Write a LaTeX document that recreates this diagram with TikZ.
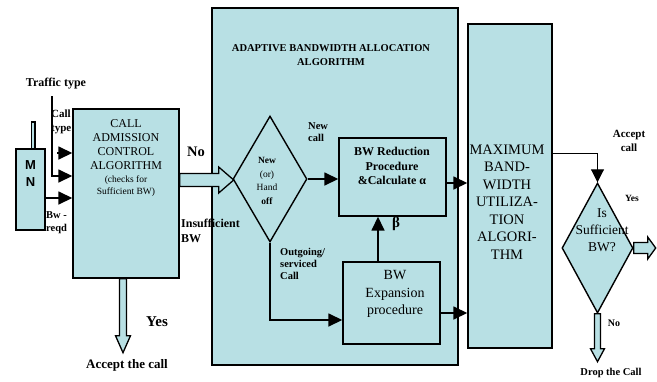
\documentclass[tikz,border=0pt]{standalone}
\usepackage{fontspec}
\setmainfont{Liberation Serif}
\newfontfamily\mnfont{Liberation Sans}
\usetikzlibrary{arrows.meta,shapes.geometric,calc}
\definecolor{boxfill}{RGB}{184,224,228}

\tikzset{
  box/.style={draw,line width=1.4pt,fill=boxfill,inner sep=0pt},
  flow/.style={line width=1.6pt,-{Triangle[length=14pt,width=13pt]}},
  thinflow/.style={line width=0.9pt,-{Triangle[length=13pt,width=13pt]}},
  blk/.style={draw,line width=1.3pt,fill=boxfill,line join=miter},
  lbl/.style={font=\bfseries\fontsize{10.5}{12}\selectfont,align=left,inner sep=0pt},
}

% hollow block arrows: start, length, half shaft, half head, head length
\newcommand{\rightblock}[5]{%
  \draw[blk] (#1) ++(0,-#3) -- ++({#2-#5},0) -- ++(0,{#3-#4}) -- ++(#5,#4)
    -- ++(-#5,#4) -- ++(0,{#3-#4}) -- ++({-(#2-#5)},0) -- cycle;}
\newcommand{\downblock}[5]{%
  \draw[blk] (#1) ++(-#3,0) -- ++(0,{#2-#5}) -- ++({#3-#4},0) -- ++(#4,#5)
    -- ++(#4,-#5) -- ++({#3-#4},0) -- ++(0,{-(#2-#5)}) -- cycle;}

\begin{document}
\begin{tikzpicture}[x=1pt,y=-1pt]
\useasboundingbox (0,0) rectangle (657,381);

\node[box,minimum width=246pt,minimum height=357pt] (aba) at (335,186.5) {};
\node[font=\bfseries\fontsize{10.5}{14}\selectfont,align=center] (abat) at (331,55)
  {ADAPTIVE BANDWIDTH ALLOCATION\\ALGORITHM};

\draw[box] (31.5,122) rectangle (35,149);
\node[box,minimum width=29pt,minimum height=81pt] (mn) at (30.5,189.5) {};
\node[font=\mnfont\bfseries\fontsize{13}{17}\selectfont,align=center] (mnt) at (30.5,174) {M\\N};

\node[box,minimum width=106pt,minimum height=169pt] (cac) at (126,193.5) {};
\node[align=center,font=\fontsize{12}{14}\selectfont] (cact) at (126,145)
  {CALL\\ADMISSION\\CONTROL\\ALGORITHM};
\node[align=center,font=\fontsize{9.5}{12}\selectfont] (cacs) at (126,186)
  {(checks for\\Sufficient BW)};

\node[box,diamond,minimum width=74pt,minimum height=126pt] (dec) at (270,179) {};
\node[align=center,font=\fontsize{9.5}{13.5}\selectfont] (dect) at (267,181)
  {\textbf{New}\\(or)\\Hand\\\textbf{off}};

\node[box,minimum width=107pt,minimum height=78pt] (red) at (392.5,177) {};
\node[align=center,font=\bfseries\fontsize{12}{14.5}\selectfont] (redt) at (392,166)
  {BW Reduction\\Procedure\\\&Calculate α};

\node[box,minimum width=97pt,minimum height=82pt] (exp) at (391.5,303) {};
\node[align=center,font=\fontsize{14}{17.5}\selectfont] (expt) at (395,294)
  {BW\\Expansion\\procedure};

\node[box,minimum width=84pt,minimum height=324pt] (max) at (510,186) {};
\node[align=center,font=\fontsize{14.5}{17.5}\selectfont] (maxt) at (507,202)
  {MAXIMUM\\BAND-\\WIDTH\\UTILIZA-\\TION\\ALGORI-\\THM};

\node[box,diamond,minimum width=71pt,minimum height=130pt] (suf) at (597.5,248) {};
\node[align=center,font=\fontsize{13.5}{17}\selectfont] (suft) at (602,230)
  {Is\\Sufficient\\BW?};

\node[lbl,font=\bfseries\fontsize{12}{14}\selectfont] (tt) at (56,84) {Traffic type};
\node[lbl,anchor=west,font=\bfseries\fontsize{11}{14}\selectfont] (ct) at (51,122) {Call\\type};
\node[lbl,anchor=west,font=\bfseries\fontsize{10.5}{13}\selectfont] (bw) at (46,223) {Bw -\\reqd};
\node[lbl,font=\bfseries\fontsize{14.5}{15}\selectfont] (no1) at (196,152) {No};
\node[lbl,anchor=west,font=\bfseries\fontsize{12}{14.5}\selectfont] (insf) at (181,231) {Insufficient\\BW};
\node[lbl,font=\bfseries\fontsize{15}{15}\selectfont] (yes1) at (157,322) {Yes};
\node[lbl,font=\bfseries\fontsize{13}{14}\selectfont] (acc1) at (127,365) {Accept the call};
\node[lbl,anchor=west,font=\bfseries\fontsize{10.5}{11.5}\selectfont] (newc) at (308,132) {New\\call};
\node[lbl,anchor=west,font=\bfseries\fontsize{10.5}{11.8}\selectfont] (outg) at (280,264) {Outgoing/\\serviced\\Call};
\node[lbl,font=\bfseries\fontsize{15}{15}\selectfont] (beta) at (396,224) {β};
\node[lbl,align=center,font=\bfseries\fontsize{11}{14}\selectfont] (accc) at (629,141) {Accept\\call};
\node[lbl,font=\bfseries\fontsize{9.5}{11}\selectfont] (yes2) at (632,198) {Yes};
\node[lbl,font=\bfseries\fontsize{10}{11}\selectfont] (no2) at (614,323) {No};
\node[lbl,font=\bfseries\fontsize{10.5}{12}\selectfont] (drop) at (611,373) {Drop the Call};

\coordinate (tfoot) at (52,96);
\coordinate (ctail) at (57,153);
\draw[flow] (tfoot) |- (cac.west |- 0,176);
\draw[flow] (ctail) -- (cac.west |- 0,153);
\draw[flow] (mn.east |- 0,198) -- (cac.west |- 0,198);
\rightblock{cac.east |- 0,180}{54}{6.5}{13}{15}
\downblock{cac.south -| 123,0}{74}{3.5}{7.5}{17}
\draw[flow] (dec.east) -- (red.west |- dec.east);
\draw[flow] (dec.south) |- (exp.west |- 0,320);
\draw[flow] (exp.north -| 378,0) -- (red.south -| 378,0);
\draw[flow] (red.east |- 0,183) -- (max.west |- 0,183);
\draw[flow] (exp.east |- 0,313) -- (max.west |- 0,313);
\draw[thinflow] (max.east |- 0,153) -| (suf.north);
\rightblock{suf.east}{22}{5.5}{11}{8}
\downblock{suf.south}{48}{3}{7}{13}
\end{tikzpicture}
\end{document}
